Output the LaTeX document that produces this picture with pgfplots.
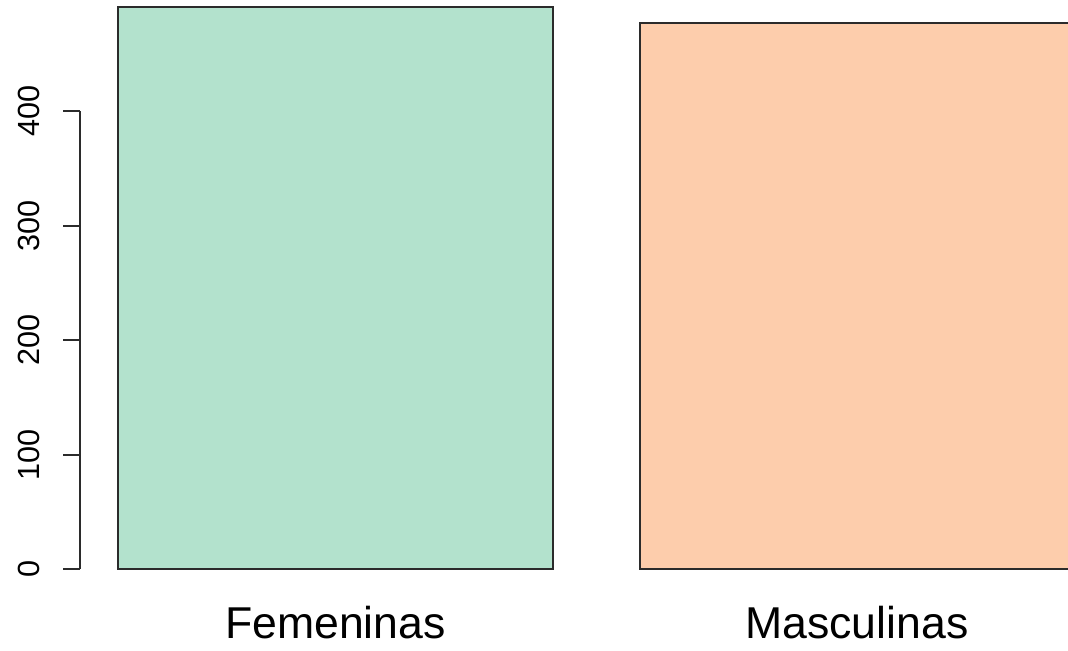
\documentclass[border=0pt]{standalone}
\usepackage{pgfplots}
\pgfplotsset{compat=1.18}
\usepackage{fontspec}
\setmainfont{Liberation Sans}
\definecolor{fem}{HTML}{B3E2CD}
\definecolor{mas}{HTML}{FDCDAC}
\definecolor{edge}{HTML}{2B2B2B}
\begin{document}
\begin{tikzpicture}
\path[use as bounding box] (0,0) rectangle (534pt,-325pt);
\clip (0,0) rectangle (534pt,-325pt);
\begin{axis}[
  at={(40pt,-295.75pt)}, anchor=south west,
  x=217.25pt, y=0.5725pt,
  xmin=0.112, xmax=2.488, ymin=-19.6, ymax=510.6,
  clip=false,
  axis x line*=bottom, axis y line*=left,
  x axis line style={draw=none}, y axis line style={draw=none},
  xtick={0.7,1.9}, xticklabels={Femeninas,Masculinas},
  xtick style={draw=none},
  xticklabel style={font=\fontsize{22.3}{26}\selectfont, anchor=base, yshift=-14.75pt, inner sep=0pt},
  ytick={0,100,200,300,400},
  ytick style={draw=edge, line width=1pt},
  tick align=outside, major tick length=8.5pt,
  /pgf/number format/assume math mode=true,
  yticklabel style={font=\fontsize{15.3}{18}\selectfont, xshift=-12pt, rotate=90, anchor=base, inner sep=0pt},
]
\addplot[ybar, bar width=1, bar shift=0pt, fill=fem, draw=edge, line width=1pt] coordinates {(0.7,491)};
\addplot[ybar, bar width=1, bar shift=0pt, fill=mas, draw=edge, line width=1pt] coordinates {(1.9,477)};
\draw[edge, line width=1pt] (axis cs:0.112,0) -- (axis cs:0.112,400);
\end{axis}
\end{tikzpicture}
\end{document}
